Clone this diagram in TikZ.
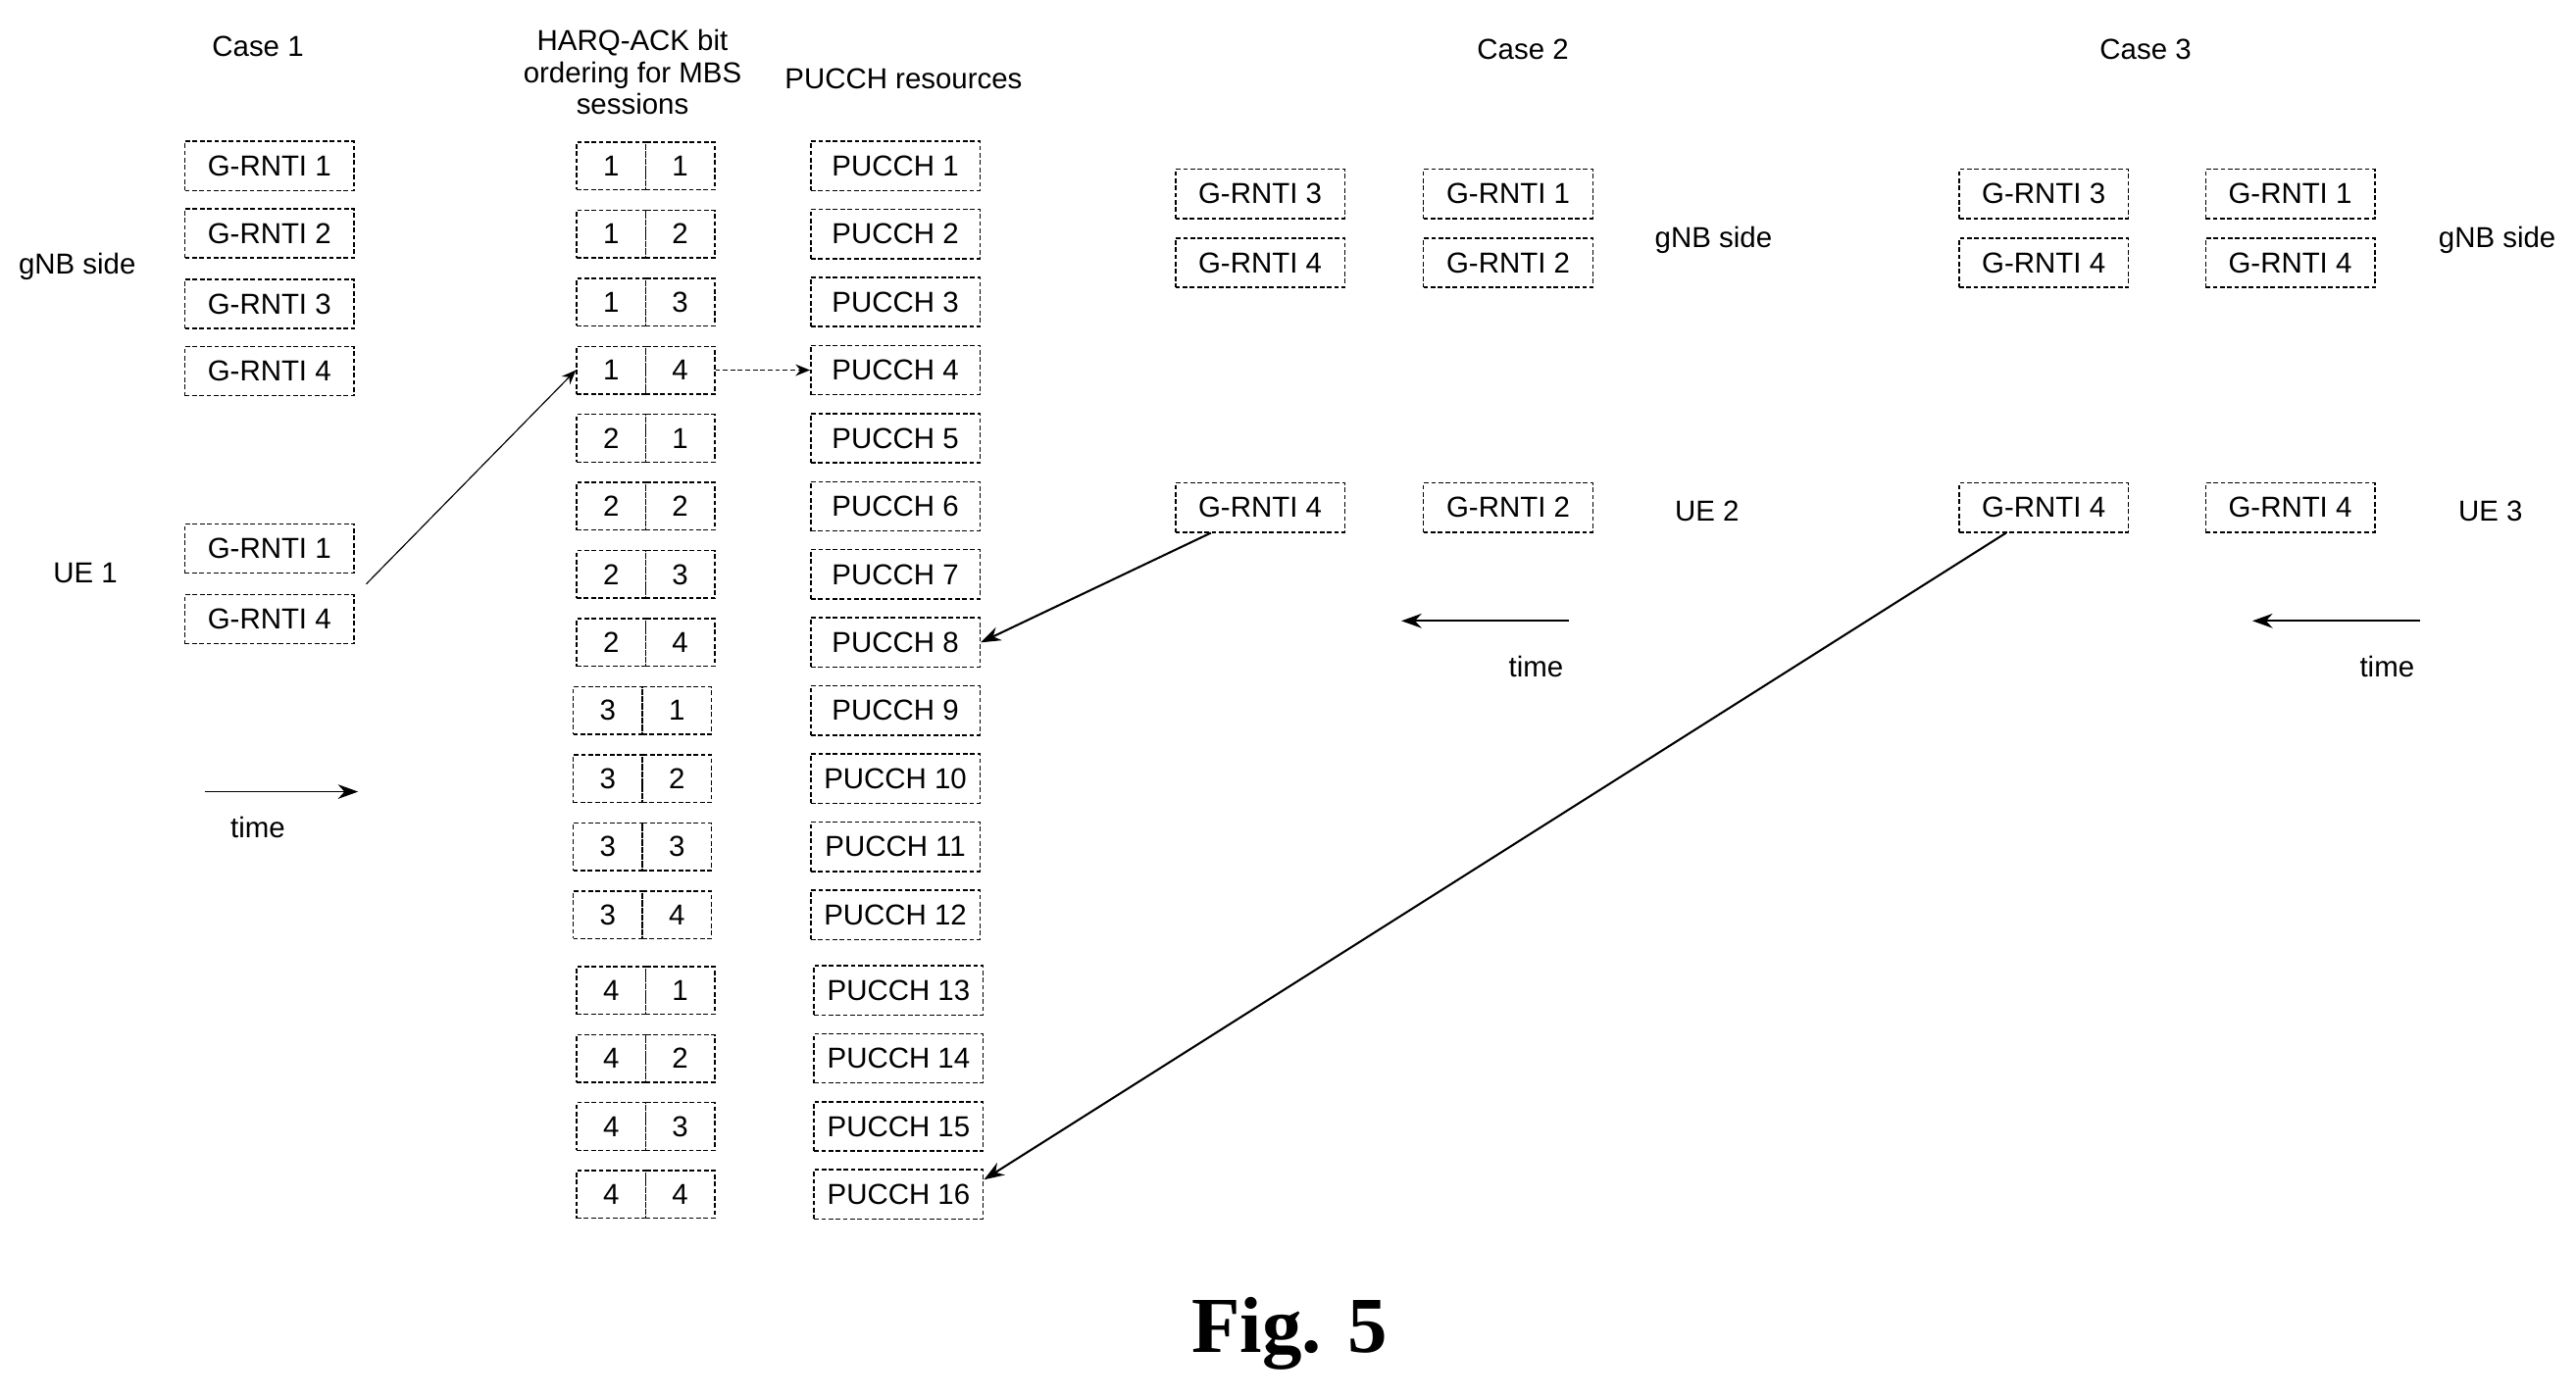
\documentclass[tikz,border=0pt]{standalone}
\usepackage{fontspec}
\setmainfont{Liberation Sans}
\newfontfamily\figfont{Liberation Serif}
\usetikzlibrary{arrows.meta}
\begin{document}
\begin{tikzpicture}[x=0.02cm,y=-0.02cm,
  bx/.style={draw,dash pattern=on 1.6pt off 0.9pt,line width=0.5pt,minimum width=2.06cm,minimum height=0.6cm,inner sep=0pt,font=\fontsize{10}{12}\selectfont},
  cell/.style={draw,dash pattern=on 1.6pt off 0.9pt,line width=0.5pt,minimum width=0.84cm,minimum height=0.58cm,inner sep=0pt,font=\fontsize{10}{12}\selectfont},
  lbl/.style={font=\fontsize{10}{12}\selectfont,align=center},
  arr/.style={-{Stealth[length=7pt,width=5pt]},line width=0.7pt}]
\useasboundingbox (0,0) rectangle (1568,851);
% Case 1
\node[lbl] (c1) at (157,28) {Case 1};
\node[lbl] (harq) at (385,44) {HARQ-ACK bit\\[-1pt]ordering for MBS\\[-1pt]sessions};
\node[lbl] (pr) at (550,48) {PUCCH resources};
\node[lbl] (gnb1) at (47,162) {gNB side};
\node[lbl] (ue1) at (52,349) {UE 1};
\foreach \i/\y in {1/101,2/142,3/185,4/226} \node[bx] (g\i) at (164,\y) {G-RNTI \i};
\node[bx] (u1a) at (164,334) {G-RNTI 1};
\node[bx] (u1b) at (164,377) {G-RNTI 4};
\coordinate (t1a) at (125,482); \coordinate (t1b) at (218,482);
\draw[arr,line width=0.6pt] (t1a) -- (t1b);
\node[lbl] (time1) at (157,504) {time};
% pairs and PUCCH
\foreach \a in {1,...,4}{\foreach \b in {1,...,4}{
  \pgfmathtruncatemacro{\k}{(\a-1)*4+\b}
  \pgfmathsetmacro{\y}{\k<13 ? 101+(\k-1)*41.45 : 603+(\k-13)*41.4}
  \pgfmathsetmacro{\dx}{\a==3 ? -2 : 0}
  \node[cell] (l\k) at (372+\dx,\y) {\a};
  \node[cell] (r\k) at (414+\dx,\y) {\b};
  \pgfmathsetmacro{\px}{\k<13 ? 545 : 547}
  \node[bx] (p\k) at (\px,\y) {PUCCH \k};
}}
\draw[-{Stealth[length=5pt,width=4pt]},line width=0.4pt] (u1b.north east) ++(7,-6) coordinate (s1) -- (l4.west);
\draw[-{Stealth[length=5pt,width=4pt]},line width=0.6pt,dash pattern=on 1.6pt off 1pt] (r4.east) -- (p4.west);
% Case 2
\node[lbl] (c2) at (927,30) {Case 2};
\node[bx] (a1) at (767,118) {G-RNTI 3};
\node[bx] (a2) at (767,160) {G-RNTI 4};
\node[bx] (a3) at (918,118) {G-RNTI 1};
\node[bx] (a4) at (918,160) {G-RNTI 2};
\node[lbl] (gnb2) at (1043,146) {gNB side};
\node[bx] (a5) at (767,309) {G-RNTI 4};
\node[bx] (a6) at (918,309) {G-RNTI 2};
\node[lbl] (ue2) at (1039,311) {UE 2};
\coordinate (t2a) at (955,378); \coordinate (t2b) at (853,378);
\draw[arr] (t2a) -- (t2b);
\node[lbl] (time2) at (935,406) {time};
\draw[arr] (a5.south west) ++(22,0) coordinate (s2) -- (p8.east);
% Case 3
\node[lbl] (c3) at (1306,30) {Case 3};
\node[bx] (b1) at (1244,118) {G-RNTI 3};
\node[bx] (b2) at (1244,160) {G-RNTI 4};
\node[bx] (b3) at (1394,118) {G-RNTI 1};
\node[bx] (b4) at (1394,160) {G-RNTI 4};
\node[lbl] (gnb3) at (1520,146) {gNB side};
\node[bx] (b5) at (1244,309) {G-RNTI 4};
\node[bx] (b6) at (1394,309) {G-RNTI 4};
\node[lbl] (ue3) at (1516,311) {UE 3};
\coordinate (t3a) at (1473,378); \coordinate (t3b) at (1371,378);
\draw[arr] (t3a) -- (t3b);
\node[lbl] (time3) at (1453,406) {time};
\draw[arr] (b5.south west) ++(29,0) coordinate (s3) -- ([yshift=0.18cm]p16.east);
\node[font=\figfont\bfseries\fontsize{27.5}{32}\selectfont] (fig) at (785,812) {Fig. 5};
\end{tikzpicture}
\end{document}
